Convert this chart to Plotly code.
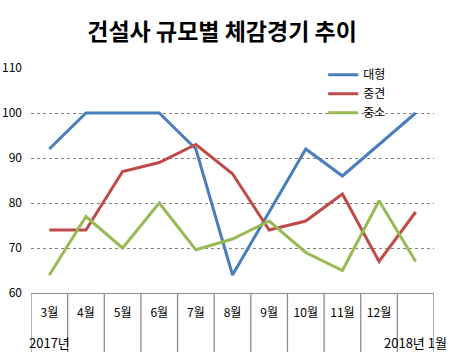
import plotly.graph_objects as go

months = ["3월", "4월", "5월", "6월", "7월", "8월", "9월", "10월", "11월", "12월", "1월"]
tick_labels = ["3월", "4월", "5월", "6월", "7월", "8월", "9월", "10월", "11월", "12월", ""]
year_labels = [("3월", "2017년"), ("1월", "2018년 1월")]

large = [92, 100, 100, 100, 92, 64, 78, 92, 86, 93, 100]
mid = [74, 74, 87, 89, 93, 86.5, 74, 76, 82, 67, 78]
small = [64, 77, 70, 80, 69.6, 72, 76, 69, 65, 80.5, 67]

series = [("대형", large, "#4A7EBB"), ("중견", mid, "#BE4B48"), ("중소", small, "#98B954")]

font_family = "Noto Sans CJK KR, Noto Sans, sans-serif"

fig = go.Figure()
for name, vals, color in series:
    fig.add_trace(go.Scatter(x=months, y=vals, name=name, mode="lines",
                             line=dict(color=color, width=3)))

# category divider lines below the axis
for i in range(len(months) + 1):
    fig.add_shape(type="line", xref="x", yref="paper", x0=i - 0.5, x1=i - 0.5,
                  y0=0, y1=-0.262, line=dict(color="#8c8c8c", width=1.3))

for cat, txt in year_labels:
    fig.add_annotation(x=cat, xref="x", y=-0.222, yref="paper", text=txt,
                       showarrow=False, xanchor="center", yanchor="middle",
                       font=dict(size=13, color="black", family=font_family))

fig.update_layout(
    width=456, height=363,
    margin=dict(l=31, r=22, t=68, b=70),
    paper_bgcolor="white", plot_bgcolor="white",
    font=dict(family=font_family, size=12, color="black"),
    title=dict(text="<b>건설사 규모별 체감경기 추이</b>", x=0.487, xanchor="center",
               y=0.912, yanchor="middle", font=dict(size=23, color="black", family=font_family)),
    showlegend=True,
    legend=dict(x=0.725, y=1.035, xanchor="left", yanchor="top", bgcolor="rgba(0,0,0,0)",
                font=dict(size=12), itemwidth=30, tracegroupgap=0),
    xaxis=dict(type="category", tickvals=months, ticktext=tick_labels, range=[-0.5, 10.5],
               showgrid=False, showline=True, linecolor="#8c8c8c", linewidth=1.3,
               ticks="", ticklabelstandoff=8, tickfont=dict(size=12), fixedrange=True,
               automargin=False),
    yaxis=dict(range=[60, 110], dtick=10, showgrid=True, gridcolor="#808080", griddash="dot",
               gridwidth=1, zeroline=False, showline=False, ticks="",
               ticklabelstandoff=8, tickfont=dict(size=12), fixedrange=True,
               automargin=False),
)

fig.write_html("out.html", post_script="document.body.style.margin='0';",
               config={"displayModeBar": False})
